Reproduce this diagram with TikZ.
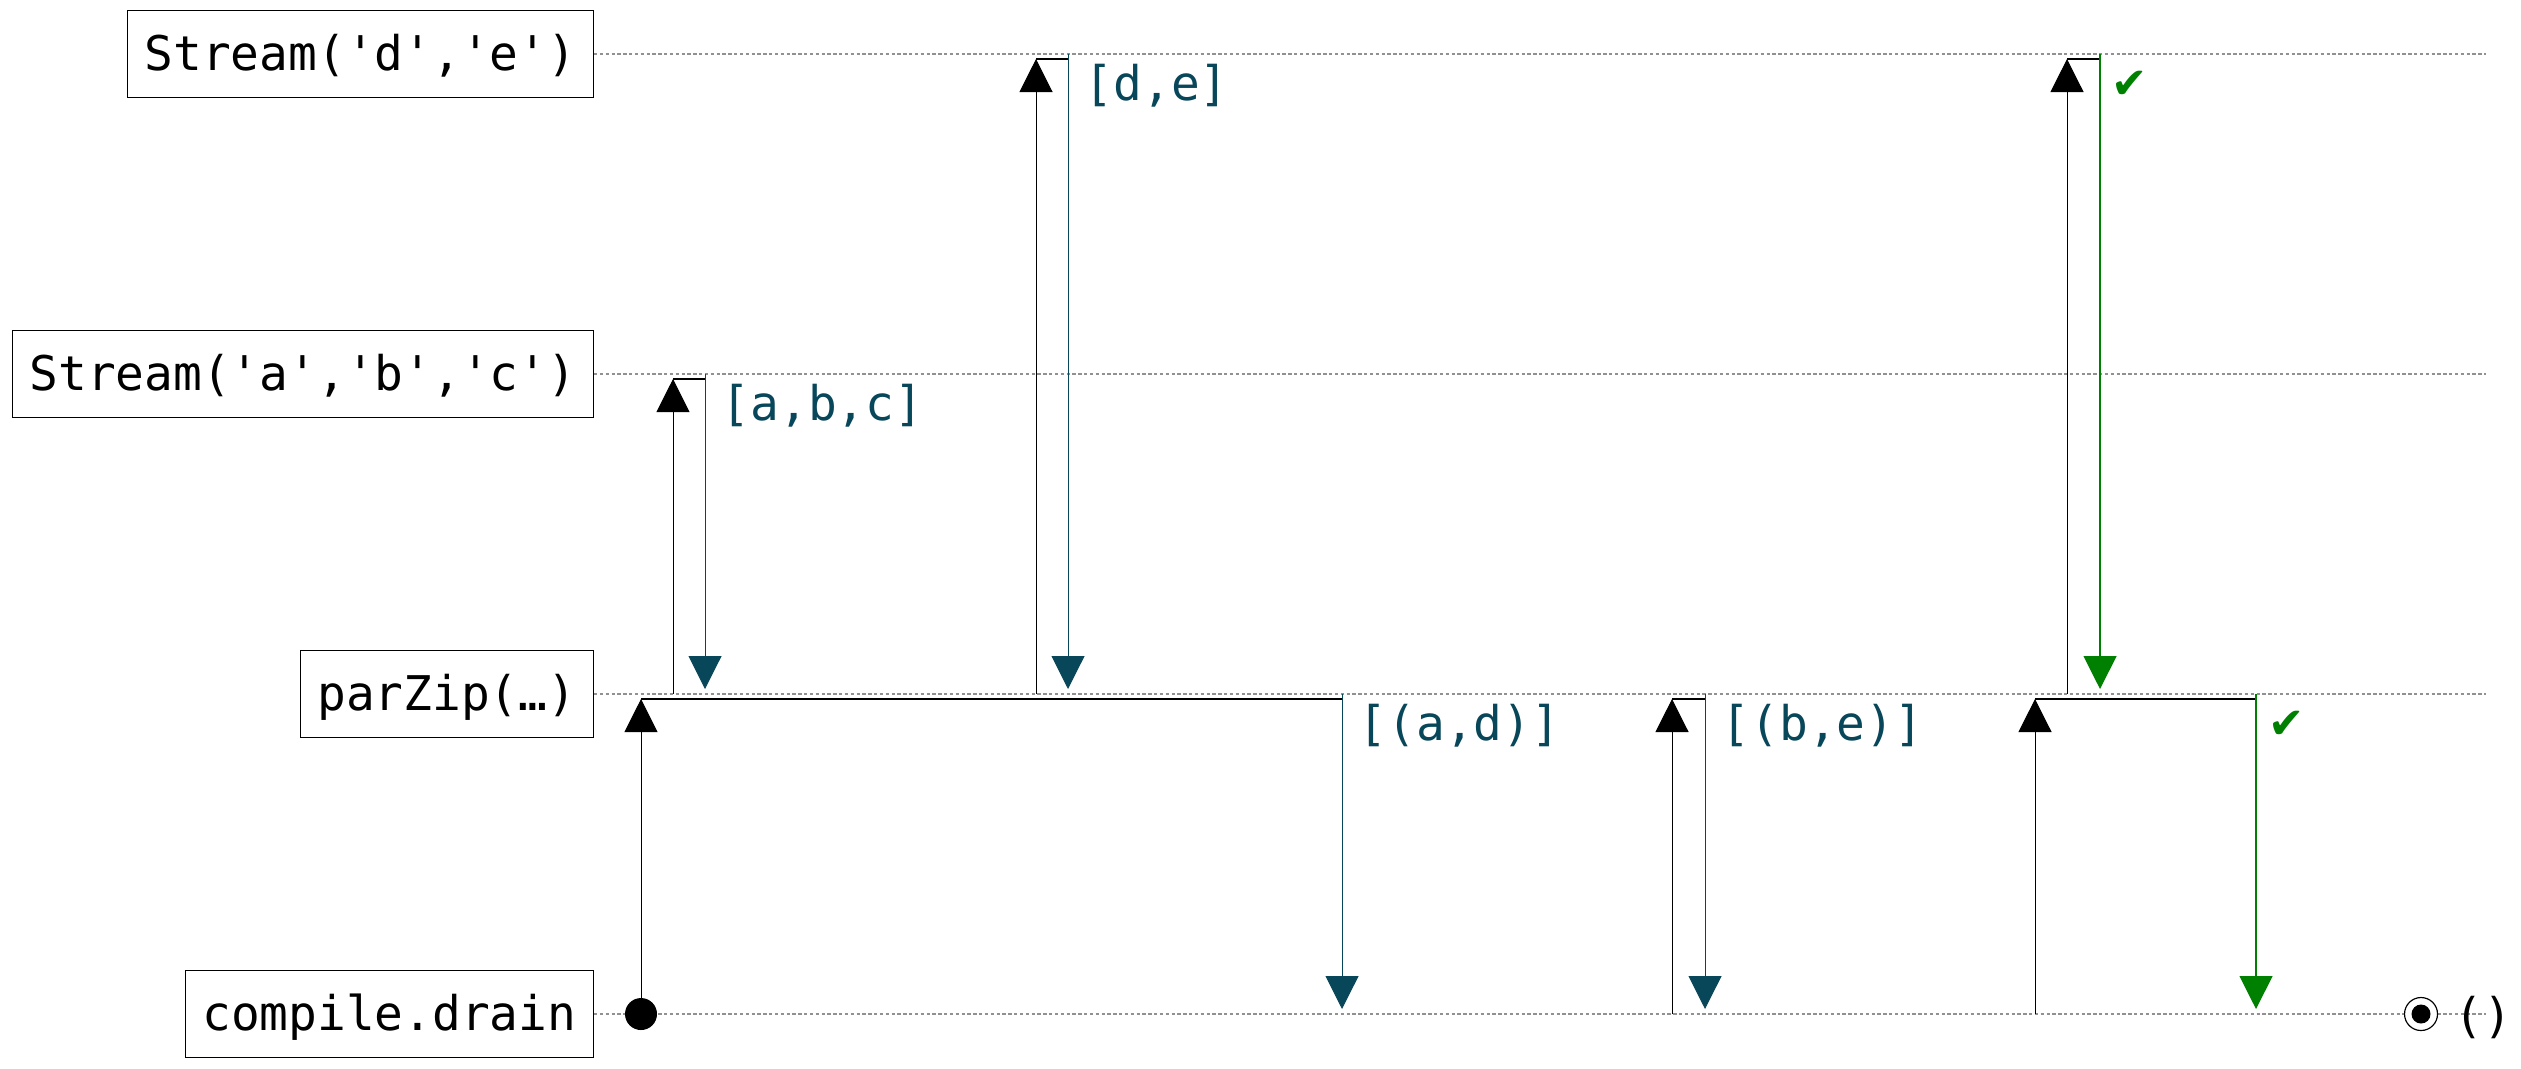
\documentclass[tikz,border=0pt]{standalone}
\usepackage{fontspec}
\setmainfont{DejaVu Sans Mono}[Ligatures=TeXOff]
\newfontfamily\symfont{DejaVu Sans}[Ligatures=TeXOff]
\usetikzlibrary{arrows.meta}
\definecolor{tealc}{RGB}{8,70,90}
\definecolor{grnc}{RGB}{0,128,0}
\definecolor{lifegray}{RGB}{145,145,145}
\begin{document}
\begin{tikzpicture}[x=0.3pt,y=-0.3pt,
  actor/.style={draw, line width=0.4pt, anchor=east, minimum height=26.1pt,
    inner xsep=5.1pt, inner ysep=0pt, font=\fontsize{14.34pt}{17pt}\selectfont,
    text height=11.5pt, text depth=1.4pt},
  life/.style={draw=lifegray, line width=0.32pt, dash pattern=on 1pt off 0.75pt},
  tipshape/.style={-{Triangle[length=9.9pt,width=9.9pt]}},
  req/.style={draw=black, line width=0.3pt, tipshape},
  resp/.style={draw=tealc, line width=0.3pt, tipshape},
  okresp/.style={draw=grnc, line width=0.35pt, tipshape},
  capline/.style={draw=black, line width=0.45pt},
  lbl/.style={anchor=base west, inner sep=0pt, text=tealc, font=\fontsize{14.34pt}{17pt}\selectfont},
  chk/.style={anchor=center, inner sep=0pt, text=grnc, font=\symfont\fontsize{13pt}{15pt}\selectfont}
]
\useasboundingbox (0,0) rectangle (2521,1068);

% actors
\node[actor] (sde) at (594,54) {Stream('d','e')};
\node[actor] (sabc) at (594,374) {Stream('a','b','c')};
\node[actor] (pz) at (594,694) {parZip(…)};
\node[actor] (cd) at (594,1014) {compile.drain};

% lifeline ends
\coordinate (sdeE) at (2486,54);
\coordinate (sabcE) at (2486,374);
\coordinate (pzE) at (2486,694);
\coordinate (cdE) at (2486,1014);
\draw[life] (sde.east) -- (sdeE);
\draw[life] (sabc.east) -- (sabcE);
\draw[life] (pz.east) -- (pzE);
\draw[life] (cd.east) -- (cdE);

% exchange 1: parZip -> Stream(a,b,c)
\coordinate (q1s) at (673,694);
\coordinate (q1t) at (673,379);
\coordinate (r1c) at (705,379);
\coordinate (r1s) at (705,374);
\coordinate (r1t) at (705,689);
\draw[req] (q1s) -- (q1t);
\draw[capline] (q1t) -- (r1c);
\draw[resp] (r1s) -- (r1t);
\node[lbl] (l1) at (721,420) {[a,b,c]};

% exchange 2: parZip -> Stream(d,e)
\coordinate (q2s) at (1036,694);
\coordinate (q2t) at (1036,59);
\coordinate (r2c) at (1068,59);
\coordinate (r2s) at (1068,54);
\coordinate (r2t) at (1068,689);
\draw[req] (q2s) -- (q2t);
\draw[capline] (q2t) -- (r2c);
\draw[resp] (r2s) -- (r2t);
\node[lbl] (l2) at (1084,100) {[d,e]};

% exchange 3: compile.drain -> parZip
\coordinate (q3s) at (641,1014);
\coordinate (q3t) at (641,699);
\coordinate (r3c) at (1342,699);
\coordinate (r3s) at (1342,694);
\coordinate (r3t) at (1342,1009);
\draw[req] (q3s) -- (q3t);
\fill (q3s) circle[radius=4.8pt];
\draw[capline] (q3t) -- (r3c);
\draw[resp] (r3s) -- (r3t);
\node[lbl] (l3) at (1358,740) {[(a,d)]};

% exchange 4: compile.drain -> parZip
\coordinate (q4s) at (1672,1014);
\coordinate (q4t) at (1672,699);
\coordinate (r4c) at (1705,699);
\coordinate (r4s) at (1705,694);
\coordinate (r4t) at (1705,1009);
\draw[req] (q4s) -- (q4t);
\draw[capline] (q4t) -- (r4c);
\draw[resp] (r4s) -- (r4t);
\node[lbl] (l4) at (1721,740) {[(b,e)]};

% exchange 5: parZip -> Stream(d,e), completion
\coordinate (q5s) at (2067,694);
\coordinate (q5t) at (2067,59);
\coordinate (r5c) at (2100,59);
\coordinate (r5s) at (2100,54);
\coordinate (r5t) at (2100,689);
\draw[req] (q5s) -- (q5t);
\draw[capline] (q5t) -- (r5c);
\draw[okresp] (r5s) -- (r5t);
\node[chk] (c5) at (2130,85) {✔};

% exchange 6: compile.drain -> parZip, completion
\coordinate (q6s) at (2035,1014);
\coordinate (q6t) at (2035,699);
\coordinate (r6c) at (2256,699);
\coordinate (r6s) at (2256,694);
\coordinate (r6t) at (2256,1009);
\draw[req] (q6s) -- (q6t);
\draw[capline] (q6t) -- (r6c);
\draw[okresp] (r6s) -- (r6t);
\node[chk] (c6) at (2287,725) {✔};

% end marker
\coordinate (endm) at (2421,1014);
\draw[fill=white, line width=0.35pt] (endm) circle[radius=4.95pt];
\fill (endm) circle[radius=2.85pt];
\node[anchor=base, inner sep=0pt, font=\fontsize{14.34pt}{17pt}\selectfont] (res) at (2483,1032) {()};
\end{tikzpicture}
\end{document}
